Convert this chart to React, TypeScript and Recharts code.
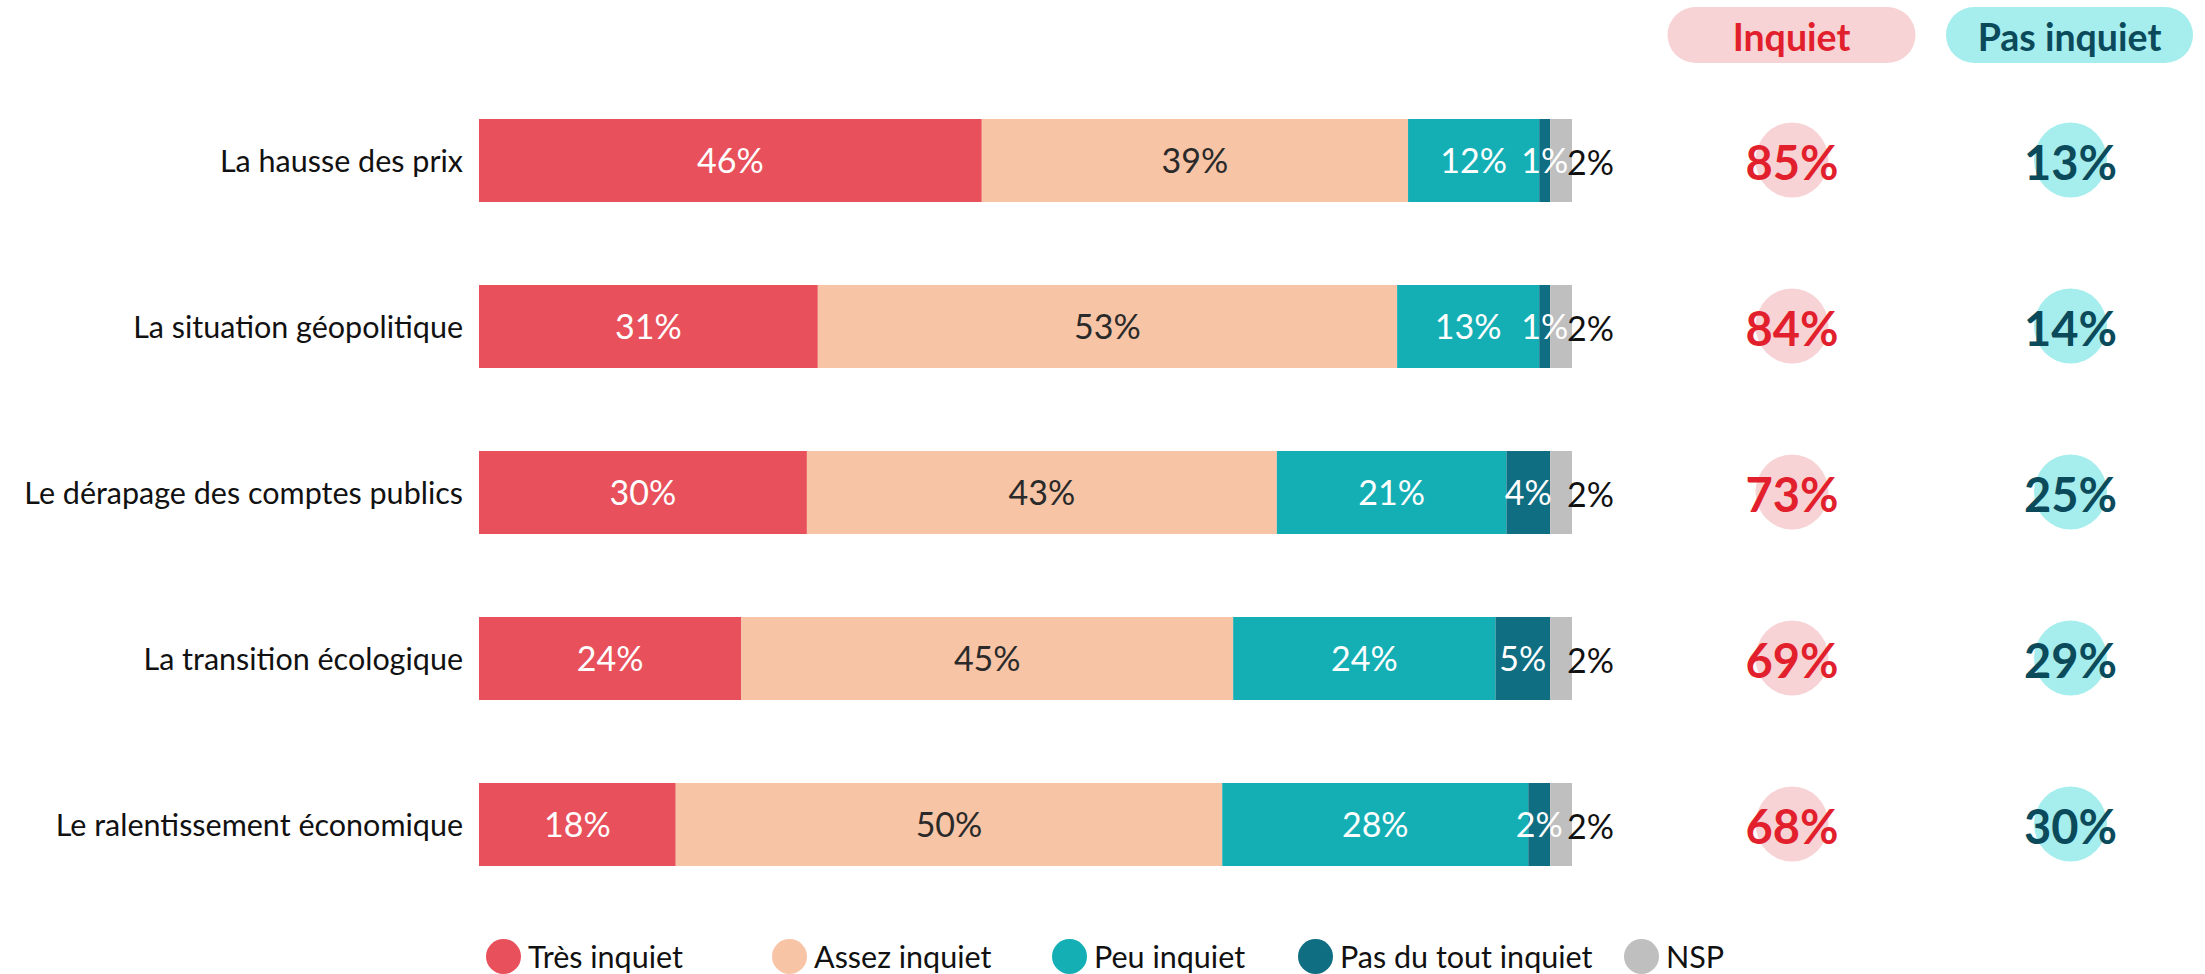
import React from "react";
import { BarChart, Bar, XAxis, YAxis, LabelList, Legend } from "recharts";

const categories = [
  "La hausse des prix",
  "La situation géopolitique",
  "Le dérapage des comptes publics",
  "La transition écologique",
  "Le ralentissement économique",
];
const tresInquiet = [46, 31, 30, 24, 18];
const assezInquiet = [39, 53, 43, 45, 50];
const peuInquiet = [12, 13, 21, 24, 28];
const pasDuTout = [1, 1, 4, 5, 2];
const nsp = [2, 2, 2, 2, 2];
const totalInquiet = [85, 84, 73, 69, 68];
const totalPasInquiet = [13, 14, 25, 29, 30];
const seriesNames = ["Très inquiet", "Assez inquiet", "Peu inquiet", "Pas du tout inquiet", "NSP"];
const headerLabels = ["Inquiet", "Pas inquiet"];

const COLORS = ["#E8505B", "#F7C4A5", "#14AFB5", "#0F6E82", "#BFBFBF"];
const FONT = "Lato, 'Open Sans', sans-serif";

const data = categories.map((name, i) => ({
  name,
  tres: tresInquiet[i],
  assez: assezInquiet[i],
  peu: peuInquiet[i],
  pas: pasDuTout[i],
  nsp: nsp[i],
}));

const fmt = (v: any) => `${v}%`;

const LeftTick = (props: any) => {
  const { x, y, payload } = props;
  return (
    <text x={x} y={y} textAnchor="end" dominantBaseline="central" fontSize={30.5} fontFamily={FONT} fill="#111">
      {payload.value}
    </text>
  );
};

const RightTick = (props: any) => {
  const { x, y, payload } = props;
  const i = payload.index;
  return (
    <g>
      <ellipse cx={x + 220} cy={y} rx={36.5} ry={37.5} fill="#F8D3D5" />
      <text x={x + 220} y={y + 2} textAnchor="middle" dominantBaseline="central" fontSize={47} fontWeight={700} fontFamily={FONT} fill="#E21F2C">
        {fmt(totalInquiet[i])}
      </text>
      <ellipse cx={x + 498.5} cy={y} rx={36.5} ry={37.5} fill="#A6EDED" />
      <text x={x + 498.5} y={y + 2} textAnchor="middle" dominantBaseline="central" fontSize={47} fontWeight={700} fontFamily={FONT} fill="#0B4A5A">
        {fmt(totalPasInquiet[i])}
      </text>
    </g>
  );
};

const HeaderLabel = (props: any) => {
  const vb = props.viewBox || {};
  const x = vb.x ?? 1572;
  const y = (vb.y ?? 77) - 42;
  return (
    <g>
      <rect x={x + 95.5} y={y - 28} width={248} height={56} rx={28} fill="#F8D3D5" />
      <text x={x + 219.5} y={y + 1} textAnchor="middle" dominantBaseline="central" fontSize={37.5} fontWeight={700} fontFamily={FONT} fill="#E21F2C">
        {headerLabels[0]}
      </text>
      <rect x={x + 374} y={y - 28} width={247} height={56} rx={28} fill="#A6EDED" />
      <text x={x + 497.5} y={y + 1} textAnchor="middle" dominantBaseline="central" fontSize={37.5} fontWeight={700} fontFamily={FONT} fill="#0B4A5A">
        {headerLabels[1]}
      </text>
    </g>
  );
};

const NspLabel = (props: any) => {
  const { x, y, width, height, value } = props;
  return (
    <text x={Number(x) + Number(width) - 5} y={Number(y) + Number(height) / 2 + 1} textAnchor="start" dominantBaseline="central" fontSize={34} fontFamily={FONT} fill="#111">
      {fmt(value)}
    </text>
  );
};

const legendLefts = [486, 772, 1052, 1298, 1624];

const LegendContent = () => (
  <div style={{ position: "relative", width: 2205, height: 67 }}>
    {seriesNames.map((n, i) => (
      <div
        key={n}
        style={{
          position: "absolute",
          left: legendLefts[i],
          top: 31,
          display: "flex",
          alignItems: "center",
          height: 36,
          fontFamily: FONT,
          fontSize: 30.5,
          color: "#111",
          whiteSpace: "nowrap",
        }}
      >
        <span style={{ display: "inline-block", width: 35, height: 35, borderRadius: "50%", background: COLORS[i], marginRight: 7 }} />
        <span>{n}</span>
      </div>
    ))}
  </div>
);

export default function App() {
  return (
    <div style={{ position: "absolute", left: 0, top: 0, fontFamily: FONT }}>
      <BarChart
        width={2205}
        height={974}
        data={data}
        layout="vertical"
        margin={{ top: 77, right: 0, bottom: 0, left: 0 }}
        barSize={83}
      >
        <XAxis type="number" domain={[0, 100]} hide />
        <YAxis
          yAxisId="left"
          type="category"
          dataKey="name"
          width={479}
          axisLine={false}
          tickLine={false}
          tickSize={0}
          tickMargin={16}
          tick={<LeftTick />}
          interval={0}
        />
        <YAxis
          yAxisId="right"
          orientation="right"
          type="category"
          dataKey="name"
          width={633}
          axisLine={false}
          tickLine={false}
          tickSize={0}
          tickMargin={0}
          tick={<RightTick />}
          interval={0}
          label={{ content: <HeaderLabel /> }}
        />
        <Legend verticalAlign="bottom" content={<LegendContent />} wrapperStyle={{ left: 0, bottom: 0, width: 2205, height: 67 }} />
        <Bar yAxisId="left" dataKey="tres" name={seriesNames[0]} stackId="a" fill={COLORS[0]} barSize={83} isAnimationActive={false}>
          <LabelList dataKey="tres" position="center" formatter={fmt} fill="#fff" fontSize={34} fontFamily={FONT} />
        </Bar>
        <Bar yAxisId="left" dataKey="assez" name={seriesNames[1]} stackId="a" fill={COLORS[1]} barSize={83} isAnimationActive={false}>
          <LabelList dataKey="assez" position="center" formatter={fmt} fill="#2a2a2a" fontSize={34} fontFamily={FONT} />
        </Bar>
        <Bar yAxisId="left" dataKey="peu" name={seriesNames[2]} stackId="a" fill={COLORS[2]} barSize={83} isAnimationActive={false}>
          <LabelList dataKey="peu" position="center" formatter={fmt} fill="#fff" fontSize={34} fontFamily={FONT} />
        </Bar>
        <Bar yAxisId="left" dataKey="pas" name={seriesNames[3]} stackId="a" fill={COLORS[3]} barSize={83} isAnimationActive={false}>
          <LabelList dataKey="pas" position="center" formatter={fmt} fill="#fff" fontSize={34} fontFamily={FONT} />
        </Bar>
        <Bar yAxisId="left" dataKey="nsp" name={seriesNames[4]} stackId="a" fill={COLORS[4]} barSize={83} isAnimationActive={false}>
          <LabelList dataKey="nsp" content={<NspLabel />} />
        </Bar>
      </BarChart>
    </div>
  );
}
